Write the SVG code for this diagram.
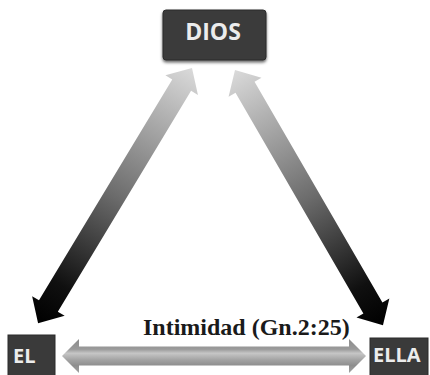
<svg xmlns="http://www.w3.org/2000/svg" width="430" height="375" viewBox="0 0 430 375">
  <style>
    .box { fill: #3a3a3a; stroke: #2a2a2a; stroke-width: 1; }
    .boxtext { font-family: "Open Sans", "DejaVu Sans", sans-serif; font-weight: bold; fill: #ececec; }
    .label { font-family: "Liberation Serif", "DejaVu Serif", serif; font-weight: bold; fill: #1a1a1a; }
  </style>
  <defs>
    <linearGradient id="diag" x1="0" y1="0" x2="1" y2="0">
      <stop offset="0" stop-color="#dadada"/>
      <stop offset="0.5" stop-color="#6c6c6c"/>
      <stop offset="0.85" stop-color="#101010"/>
      <stop offset="1" stop-color="#000"/>
    </linearGradient>
    <linearGradient id="horiz" gradientUnits="userSpaceOnUse" x1="0" y1="339" x2="0" y2="373">
      <stop offset="0" stop-color="#8c8c8c"/>
      <stop offset="0.3" stop-color="#9a9a9a"/>
      <stop offset="0.42" stop-color="#c6c6c6"/>
      <stop offset="0.62" stop-color="#a2a2a2"/>
      <stop offset="0.78" stop-color="#8e8e8e"/>
      <stop offset="1" stop-color="#a0a0a0"/>
    </linearGradient>
    <filter id="shadow" x="-20%" y="-20%" width="140%" height="150%">
      <feDropShadow dx="0" dy="2" stdDeviation="1.5" flood-color="#000" flood-opacity="0.6"/>
    </filter>
  </defs>

  <g id="connectors">
    <path id="arrow-dios-el" fill="url(#diag)" transform="translate(192,68) rotate(121.1)"
          d="M0,0 L20,-19 L20,-11 L278,-11 L278,-19 L298,0 L278,19 L278,11 L20,11 L20,19 Z"/>
    <path id="arrow-dios-ella" fill="url(#diag)" transform="translate(235,70) rotate(59.9)"
          d="M0,0 L20,-19 L20,-11 L275,-11 L275,-19 L295,0 L275,19 L275,11 L20,11 L20,19 Z"/>
    <path id="arrow-el-ella" fill="url(#horiz)"
          d="M62,356 L79,339 L79,346.5 L349,346.5 L349,339 L366,356 L349,373 L349,365.5 L79,365.5 L79,373 Z"/>
  </g>

  <g id="label-intimidad">
    <text class="label" x="143" y="335" font-size="24">Intimidad (Gn.2:25)</text>
  </g>

  <g id="node-dios">
    <rect class="box" x="163" y="10" width="103" height="50" rx="3" filter="url(#shadow)"/>
    <text class="boxtext" x="213" y="40" font-size="23" text-anchor="middle">DIOS</text>
  </g>

  <g id="node-el">
    <rect class="box" x="8" y="335" width="47" height="45"/>
    <text class="boxtext" x="13" y="363" font-size="20">EL</text>
  </g>

  <g id="node-ella">
    <rect class="box" x="370" y="338" width="58" height="42"/>
    <text class="boxtext" x="373" y="362" font-size="20">ELLA</text>
  </g>
</svg>
